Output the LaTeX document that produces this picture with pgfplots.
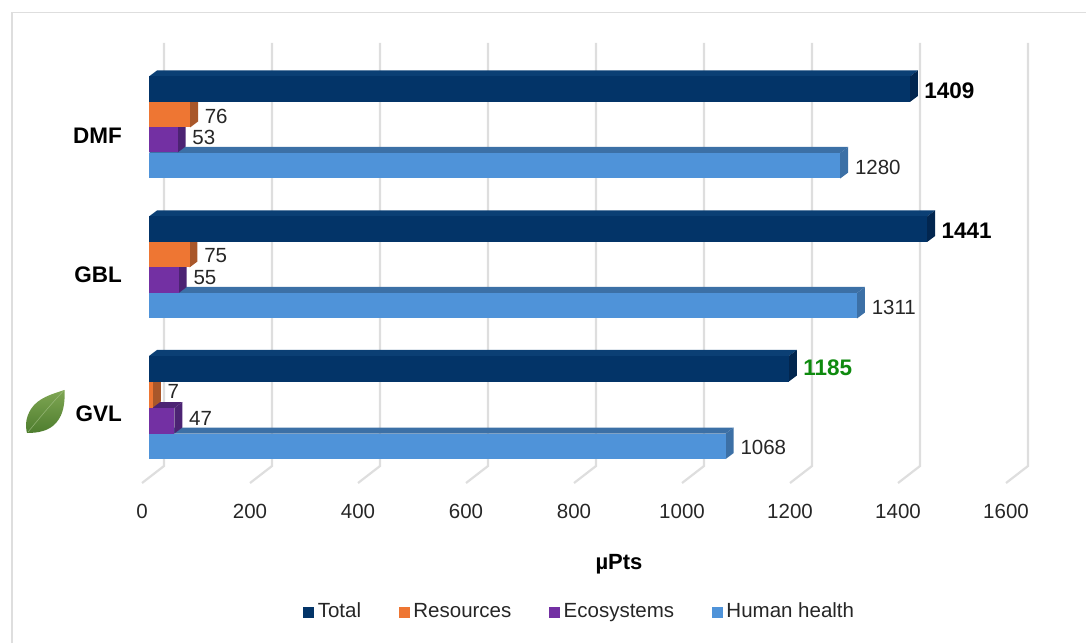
\documentclass[border=0pt]{standalone}
\usepackage{pgfplots}
\pgfplotsset{compat=1.18}
\usepackage{fontspec}
\setmainfont{Liberation Sans}
\definecolor{cTot}{HTML}{033468}
\definecolor{cTotT}{HTML}{0B3F74}
\definecolor{cTotS}{HTML}{02264F}
\definecolor{cRes}{HTML}{EE7633}
\definecolor{cResS}{HTML}{A9572A}
\definecolor{cEco}{HTML}{7330A3}
\definecolor{cEcoS}{HTML}{4C2373}
\definecolor{cHum}{HTML}{4F93D9}
\definecolor{cHumS}{HTML}{3C70A6}
\definecolor{cGrid}{HTML}{DEDEDE}
\definecolor{cGreen}{HTML}{0E8A0E}
\definecolor{leafA}{HTML}{7FA653}
\definecolor{leafB}{HTML}{4E7D2E}
% one 3D bar: value, top of front face (image row), front, top, side colour, label yshift, label style
\newcommand{\threed}[7]{%
  \pgfmathsetmacro{\yc}{643-(#2+12.75)}%
  \pgfmathsetmacro{\yt}{643-#2}%
  \pgfmathsetmacro{\yb}{643-#2-25.5}%
  \pgfmathsetmacro{\ytt}{643-#2+6}%
  \pgfmathsetmacro{\ybb}{643-#2-25.5+6}%
  \pgfmathsetmacro{\xb}{#1+14.8}%
  \addplot[fill=#4,draw=none,forget plot] coordinates {(0,\yt) (14.8,\ytt) (\xb,\ytt) (#1,\yt)};
  \addplot[fill=#5,draw=none,forget plot] coordinates {(#1,\yt) (\xb,\ytt) (\xb,\ybb) (#1,\yb)};
  \addplot[xbar,bar shift=0pt,bar width=12.75pt,fill=#3,draw=none,forget plot,
    nodes near coords,
    every node near coord/.append style={anchor=west,inner sep=0pt,#7,yshift=#6}]
    coordinates {(#1,\yc)};
}
\newcommand{\grid}[1]{%
  \pgfmathsetmacro{\xa}{#1+27.8}%
  \pgfmathsetmacro{\xf}{#1-12.9}%
  \addplot[cGrid,line width=1.1pt,forget plot] coordinates {(\xa,600) (\xa,177) (\xf,160)};
}
\tikzset{lab/.style={xshift=7.2pt,font=\fontsize{10.25}{12}\selectfont,text=black!85},
  labb/.style={xshift=7pt,font=\fontsize{11.25}{13}\selectfont\bfseries,text=black}}
\begin{document}
\begin{tikzpicture}
\path[use as bounding box] (0,0) rectangle (543pt,321.5pt);
\begin{axis}[
  at={(74.5pt,80pt)},anchor=south west,
  scale only axis,width=432pt,height=220pt,
  xmin=0,xmax=1600,ymin=160,ymax=600,
  clip=false,
  axis line style={draw=none},
  major tick length=0pt,
  /pgf/number format/1000 sep={},
  /pgf/number format/assume math mode=true,
  xtick={0,200,400,600,800,1000,1200,1400,1600},
  ytick={229,368,507.5},
  yticklabels={GVL,GBL,DMF},
  xticklabel style={font=\fontsize{10.25}{12}\selectfont,text=black!85,xshift=-3.5pt,yshift=-7pt},
  yticklabel style={font=\fontsize{11.25}{13}\selectfont\bfseries,text=black,xshift=-10pt},
  xlabel={µPts},
  every axis x label/.style={at={(rel axis cs:0.544,-0.184)},anchor=center,font=\fontsize{11}{13}\selectfont\bfseries},
  legend columns=4,
  legend cell align=left,
  legend style={at={(rel axis cs:0.4995,-0.294)},anchor=center,draw=none,fill=none,
    font=\fontsize{10.25}{12}\selectfont,text=black!85,
    nodes={text height=7.5pt,text depth=2.2pt},
    /tikz/every even column/.append style={column sep=16.75pt}},
]
\grid{0}\grid{200}\grid{400}\grid{600}\grid{800}\grid{1000}\grid{1200}\grid{1400}\grid{1600}
% DMF
\threed{1280}{153}{cHum}{cHumS}{cHumS}{-0.75pt}{lab}
\threed{53}{127}{cEco}{cEcoS}{cEcoS}{1.25pt}{lab}
\threed{76}{102}{cRes}{cResS}{cResS}{-0.75pt}{lab}
\threed{1409}{76.5}{cTot}{cTotT}{cTotS}{-1pt}{labb}
% GBL
\threed{1311}{293}{cHum}{cHumS}{cHumS}{-0.75pt}{lab}
\threed{55}{267.5}{cEco}{cEcoS}{cEcoS}{1.5pt}{lab}
\threed{75}{242}{cRes}{cResS}{cResS}{-0.5pt}{lab}
\threed{1441}{216.5}{cTot}{cTotT}{cTotS}{-0.75pt}{labb}
% GVL
\threed{1068}{433.5}{cHum}{cHumS}{cHumS}{-0.5pt}{lab}
\threed{47}{408}{cEco}{cEcoS}{cEcoS}{1pt}{lab}
\threed{7}{382}{cRes}{cResS}{cResS}{1.5pt}{lab}
\threed{1185}{356}{cTot}{cTotT}{cTotS}{0.5pt}{labb,text=cGreen}
\pgfplotsset{legend image code/.code={\fill[#1] (0pt,-2.5pt) rectangle (5pt,2.5pt);}}
\addlegendimage{cTot}\addlegendentry{Total}
\addlegendimage{cRes}\addlegendentry{Resources}
\addlegendimage{cEco}\addlegendentry{Ecosystems}
\addlegendimage{cHum}\addlegendentry{Human health}
\end{axis}
\begin{scope}[x=0.5pt,y=-0.5pt,yshift=321.5pt]
\draw[cGrid,line width=0.6pt] (12,643) -- (12,12.5) -- (1086,12.5);
\shade[top color=leafA,bottom color=leafB,draw=none]
  (64.5,390) .. controls (52,394) and (38,398) .. (31,409)
  .. controls (26,417) and (25,425) .. (27,433)
  .. controls (38,433) and (49,431) .. (56,423)
  .. controls (64,414) and (65,402) .. (64.5,390) -- cycle;
\draw[leafA!70!white,line width=0.3pt,opacity=.7] (28,432) .. controls (38,420) and (50,405) .. (63.5,391);
\end{scope}
\end{tikzpicture}
\end{document}
